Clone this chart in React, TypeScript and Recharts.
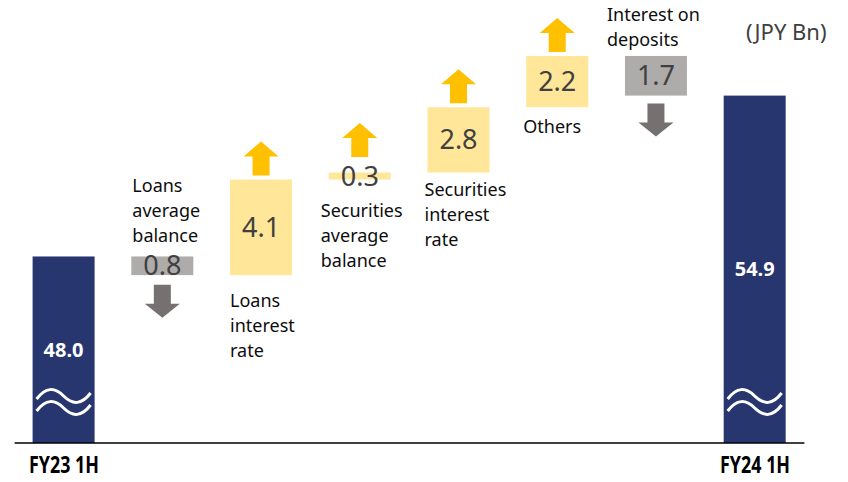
import React from 'react';
import { ComposedChart, Bar, XAxis, YAxis } from 'recharts';

// categories along the x axis, first and last are the totals
const categories = [
  'FY23 1H',
  'Loans average balance',
  'Loans interest rate',
  'Securities average balance',
  'Securities interest rate',
  'Others',
  'Interest on deposits',
  'FY24 1H'
];
// text printed next to each step (split into lines)
const stepLabels = [
  [],
  ['Loans', 'average', 'balance'],
  ['Loans', 'interest', 'rate'],
  ['Securities', 'average', 'balance'],
  ['Securities', 'interest', 'rate'],
  ['Others'],
  ['Interest on', 'deposits'],
  []
];
const openingTotal = 48.0;
const closingTotal = 54.9;
const deltas = [-0.8, 4.1, 0.3, 2.8, 2.2, -1.7];
const unitLabel = '(JPY Bn)';

// broken axis: plot starts at 40
const axisFloor = 40;
const axisCeiling = 59;

// small placement tweaks for the step captions
const captionDx = [0, 1, 0, -8, -3, -3, -18, 0];
const captionGap = [0, 14, 32, 37, 23, 26, 10, 0];

const NAVY = '#27366F';
const UP_BOX = '#FFE699';
const UP_ARROW = '#FFC000';
const DOWN_BOX = '#AEABAB';
const DOWN_ARROW = '#767171';
const FONT = '"Noto Sans", "DejaVu Sans", sans-serif';

let running = openingTotal;
const rows = categories.map((name, i) => {
  if (i === 0) {
    return { name, kind: 'total', value: openingTotal, range: [axisFloor, openingTotal], lines: [] as string[] };
  }
  if (i === categories.length - 1) {
    return { name, kind: 'total', value: closingTotal, range: [axisFloor, closingTotal], lines: [] as string[] };
  }
  const d = deltas[i - 1];
  const from = running;
  running = Math.round((running + d) * 10) / 10;
  return {
    name,
    kind: d >= 0 ? 'up' : 'down',
    value: Math.abs(d),
    range: [Math.min(from, running), Math.max(from, running)],
    lines: stepLabels[i]
  };
});

const wavePath = (x0: number, y0: number, w: number) =>
  `M${x0},${y0 + 3} C${x0 + 0.17 * w},${y0 - 9} ${x0 + 0.33 * w},${y0 - 9} ${x0 + 0.5 * w},${y0} ` +
  `C${x0 + 0.67 * w},${y0 + 9} ${x0 + 0.83 * w},${y0 + 9} ${x0 + w},${y0 - 3}`;

const upArrow = (cx: number, b: number) =>
  `${cx},${b - 34} ${cx + 17.5},${b - 19} ${cx + 8.5},${b - 19} ${cx + 8.5},${b} ${cx - 8.5},${b} ${cx - 8.5},${b - 19} ${cx - 17.5},${b - 19}`;

const downArrow = (cx: number, t: number) =>
  `${cx - 8.5},${t} ${cx + 8.5},${t} ${cx + 8.5},${t + 19} ${cx + 17.5},${t + 19} ${cx},${t + 33} ${cx - 17.5},${t + 19} ${cx - 8.5},${t + 19}`;

const StepShape = (props: any) => {
  const { x, width, payload, index } = props;
  const top = Math.min(props.y, props.y + props.height);
  const h = Math.abs(props.height);
  const bottom = top + h;
  const cx = x + width / 2;
  const cy = top + h / 2;

  if (payload.kind === 'total') {
    return (
      <g>
        <rect x={x} y={top} width={width} height={h} fill={NAVY} />
        <text x={cx} y={cy + 7} textAnchor="middle" fill="#fff" fontWeight="bold" fontSize={20} fontFamily={FONT}>
          {payload.value.toFixed(1)}
        </text>
        <path d={wavePath(x + 4, bottom - 47, width - 8)} stroke="#fff" strokeWidth={3} fill="none" />
        <path d={wavePath(x + 4, bottom - 35, width - 8)} stroke="#fff" strokeWidth={3} fill="none" />
      </g>
    );
  }

  const up = payload.kind === 'up';
  const lines: string[] = payload.lines;
  const lx = x + captionDx[index];
  const lineH = 25;
  const firstBase = up
    ? bottom + captionGap[index]
    : top - captionGap[index] - lineH * (lines.length - 1);

  return (
    <g>
      <rect x={x} y={top} width={width} height={h} fill={up ? UP_BOX : DOWN_BOX} />
      <text x={cx} y={cy + 9.6} textAnchor="middle" fill="#404040" fontSize={27} fontFamily={FONT}>
        {payload.value.toFixed(1)}
      </text>
      {up ? (
        <polygon points={upArrow(cx, Math.min(top - 4, cy - 19))} fill={UP_ARROW} />
      ) : (
        <polygon points={downArrow(cx, Math.max(bottom + 8, cy + 19))} fill={DOWN_ARROW} />
      )}
      {lines.map((ln, k) => (
        <text key={k} x={lx} y={firstBase + k * lineH} fill="#0D0D0D" fontSize={18} fontFamily={FONT}>
          {ln}
        </text>
      ))}
    </g>
  );
};

const TotalTick = (props: any) => {
  const { x, y, payload } = props;
  const row = rows[payload.index];
  if (!row || row.kind !== 'total') return <g />;
  return (
    <text
      x={x}
      y={y + 30}
      textAnchor="middle"
      fill="#000"
      fontWeight="bold"
      fontSize={23}
      fontFamily={FONT}
      textLength={70}
      lengthAdjust="spacingAndGlyphs"
    >
      {payload.value}
    </text>
  );
};

export default function App() {
  return (
    <div style={{ position: 'absolute', left: 0, top: 0, width: 848, height: 482, background: '#fff' }}>
      <ComposedChart
        width={848}
        height={482}
        data={rows}
        margin={{ top: 0, right: 43.6, left: 14.6, bottom: 0 }}
      >
        <XAxis
          dataKey="name"
          height={39}
          tickLine={false}
          tickSize={0}
          tickMargin={0}
          interval={0}
          axisLine={{ stroke: '#000', strokeWidth: 1.5 }}
          tick={<TotalTick />}
        />
        <YAxis hide type="number" domain={[axisFloor, axisCeiling]} allowDataOverflow />
        <Bar dataKey="range" barSize={62} shape={<StepShape />} isAnimationActive={false} />
      </ComposedChart>
      <svg width={848} height={482} style={{ position: 'absolute', left: 0, top: 0, pointerEvents: 'none' }}>
        <text x={746} y={40} fill="#404040" fontSize={22} fontFamily={FONT}>
          {unitLabel}
        </text>
      </svg>
    </div>
  );
}
